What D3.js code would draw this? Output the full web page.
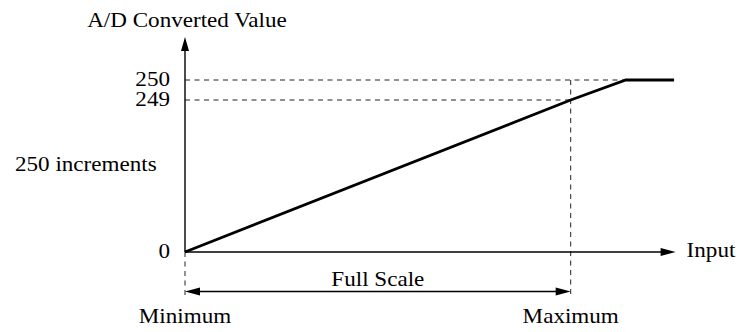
<!DOCTYPE html>
<html>
<head>
<meta charset="utf-8">
<script src="https://cdn.jsdelivr.net/npm/d3@7"></script>
<style>
  html, body { margin: 0; padding: 0; background: #fff; }
  svg { display: block; }
  text { font-family: "Liberation Serif", "Times New Roman", serif; font-size: 22px; fill: #000; }
</style>
</head>
<body>
<svg id="chart" width="740" height="332"></svg>
<script>
// Transfer characteristic of the A/D converter: input span vs. converted code
const inputPoints  = [0, 100, 114.3, 126.8];   // input, % of full scale
const outputCodes  = [0, 249, 250, 250];       // A/D converted value
const codeTicks    = [0, 249, 250];            // labelled codes on the vertical axis
const codeLabels   = ["0", "249", "250"];
const inputMarks   = [0, 100];                 // ends of the full-scale span
const inputLabels  = ["Minimum", "Maximum"];
const inputAxisEnd = 127.2;

const svg = d3.select("#chart");
const stretch = 1.05;   // typeface drawn slightly wide

// Input scale: minimum..maximum of the span
const x = d3.scaleLinear().domain([0, 100]).range([185, 570.7]);
// Code scale, with the top two codes spread apart so 249 and 250 read clearly
const y = d3.scaleLinear().domain([0, 249, 250]).range([252, 100, 80]);

const x0 = x(0), y0 = y(0);
const yAxisTop = 37;

function label(txt, px, py, anchor) {
  svg.append("g")
    .attr("transform", `translate(${px},${py}) scale(${stretch},1)`)
    .append("text")
    .attr("text-anchor", anchor || "start")
    .text(txt);
}

function arrowHead(tipX, tipY, dir, len, half) {
  let pts;
  if (dir === "up") pts = [[tipX, tipY], [tipX - half, tipY + len], [tipX + half, tipY + len]];
  else if (dir === "right") pts = [[tipX, tipY], [tipX - len, tipY - half], [tipX - len, tipY + half]];
  else pts = [[tipX, tipY], [tipX + len, tipY - half], [tipX + len, tipY + half]];
  svg.append("path").attr("d", "M" + pts.map(p => p.join(",")).join("L") + "Z").attr("fill", "#000");
}

const dash = "5,4.5";

// Guide lines for the 250 and 249 codes
svg.append("line")
  .attr("x1", x0).attr("x2", x(inputPoints[2]))
  .attr("y1", y(250)).attr("y2", y(250))
  .attr("stroke", "#222").attr("stroke-width", 1).attr("stroke-dasharray", dash);
svg.append("line")
  .attr("x1", x0).attr("x2", x(100))
  .attr("y1", y(249)).attr("y2", y(249))
  .attr("stroke", "#222").attr("stroke-width", 1).attr("stroke-dasharray", dash);

// Vertical guides at the minimum and maximum input
const guideBottom = 297;
svg.append("line")
  .attr("x1", x(0)).attr("x2", x(0))
  .attr("y1", y0).attr("y2", guideBottom)
  .attr("stroke", "#222").attr("stroke-width", 1).attr("stroke-dasharray", dash);
svg.append("line")
  .attr("x1", x(100)).attr("x2", x(100))
  .attr("y1", y(250)).attr("y2", guideBottom)
  .attr("stroke", "#222").attr("stroke-width", 1).attr("stroke-dasharray", dash);

// Axes
svg.append("line")
  .attr("x1", x0).attr("x2", x0).attr("y1", y0).attr("y2", yAxisTop + 8)
  .attr("stroke", "#000").attr("stroke-width", 1.4);
arrowHead(x0, yAxisTop, "up", 14, 4);

const xTip = x(inputAxisEnd);
svg.append("line")
  .attr("x1", x0).attr("x2", xTip - 8).attr("y1", y0).attr("y2", y0)
  .attr("stroke", "#000").attr("stroke-width", 1.4);
arrowHead(xTip, y0, "right", 15, 4);

// Transfer curve
const pts = inputPoints.map((v, i) => [v, outputCodes[i]]);
svg.append("path")
  .datum(pts)
  .attr("d", d3.line().x(d => x(d[0])).y(d => y(d[1])))
  .attr("fill", "none").attr("stroke", "#000")
  .attr("stroke-width", 2.8).attr("stroke-linejoin", "miter");

// Full-scale span arrow
const spanY = 291.5;
svg.append("line")
  .attr("x1", x(0) + 8).attr("x2", x(100) - 8).attr("y1", spanY).attr("y2", spanY)
  .attr("stroke", "#000").attr("stroke-width", 1.4);
arrowHead(x(0), spanY, "left", 15, 4);
arrowHead(x(100), spanY, "right", 15, 4);

// Code labels on the vertical axis
codeTicks.forEach((c, i) => {
  label(codeLabels[i], x0 - 15, y(c) + 5.5, "end");
});

// Texts
label("A/D Converted Value", x0 + 2, 27, "middle");
label("250 increments", 15, 171, "start");
label("Input", xTip + 11, 256.5, "start");
label("Full Scale", (x(0) + x(100)) / 2, 286, "middle");
inputMarks.forEach((m, i) => label(inputLabels[i], x(m), 323, "middle"));
</script>
</body>
</html>
